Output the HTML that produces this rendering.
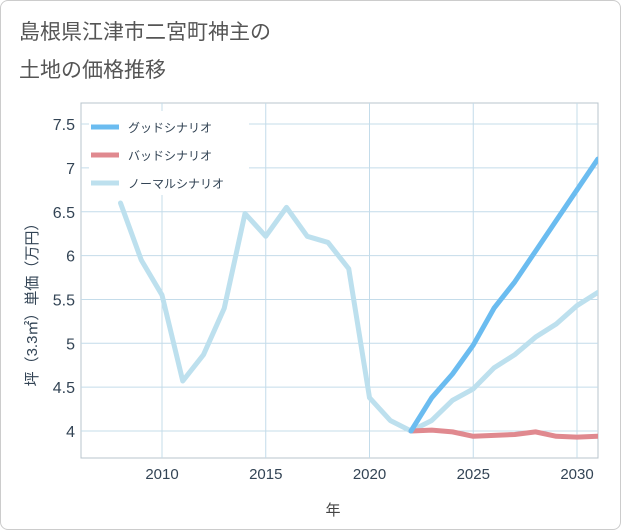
<!DOCTYPE html>
<html><head><meta charset="utf-8"><style>
body{margin:0;background:#fff;}
#wrap{position:relative;width:619px;height:528px;border:1px solid #ccc;border-radius:8px;overflow:hidden;background:#fff;}
svg text{font-family:"Liberation Sans","Noto Sans CJK JP",sans-serif;}
</style></head><body>
<div id="wrap">
<svg id="chart" width="621" height="530">
<text x="18" y="38" font-size="21" fill="#555">島根県江津市二宮町神主の</text>
<text x="18" y="76" font-size="21" fill="#555">土地の価格推移</text>
<g id="grid"></g><g id="series"></g><g id="legend"></g>
<text x="332" y="514" font-size="15" fill="#444" text-anchor="middle">年</text>
<text transform="translate(36,300) rotate(-90)" font-size="15" fill="#345" text-anchor="middle">坪（3.3㎡）単価（万円）</text>
</svg></div>
<script>
const years=[2008,2009,2010,2011,2012,2013,2014,2015,2016,2017,2018,2019,2020,2021,2022,2023,2024,2025,2026,2027,2028,2029,2030,2031];
const normal=[6.6,5.95,5.55,4.57,4.87,5.4,6.48,6.22,6.55,6.22,6.15,5.85,4.38,4.12,4.0,4.12,4.35,4.48,4.72,4.87,5.07,5.22,5.43,5.58];
const futureYears=[2022,2023,2024,2025,2026,2027,2028,2029,2030,2031];
const good=[4.0,4.38,4.65,4.98,5.4,5.7,6.05,6.4,6.75,7.1];
const bad=[4.0,4.01,3.99,3.94,3.95,3.96,3.99,3.94,3.93,3.94];
const xTicks=[2010,2015,2020,2025,2030];
const yTicks=[4,4.5,5,5.5,6,6.5,7,7.5];
const yLabels=["4","4.5","5","5.5","6","6.5","7","7.5"];
const L=80,R=597,T=102,B=457;
const x=v=>161+(v-2010)*20.75;
const y=v=>430-(v-4)*87.7;
const ns="http://www.w3.org/2000/svg";
function mk(t,a,p){const e=document.createElementNS(ns,t);for(const k in a)e.setAttribute(k,a[k]);p.appendChild(e);return e;}
const g=document.getElementById('grid');
const bg=mk('rect',{x:L,y:T,width:R-L,height:B-T,fill:'#fff',stroke:'#b8c4cc',"stroke-width":1},g);


xTicks.forEach(v=>{const l=mk('line',{x1:x(v),x2:x(v),y1:T,y2:B,stroke:'#c4dcea'},g);

});
yTicks.forEach(v=>{const l=mk('line',{x1:L,x2:R,y1:y(v),y2:y(v),stroke:'#c4dcea'},g);

});
xTicks.forEach(v=>{const t=mk('text',{x:x(v),y:478,"font-size":15,fill:'#345',"text-anchor":'middle'},g);t.textContent=v;

});
yTicks.forEach((v,i)=>{const t=mk('text',{x:74,y:y(v)+6,"font-size":16,fill:'#345',"text-anchor":'end'},g);t.textContent=yLabels[i];

});
const s=document.getElementById('series');
function line(xs,vs,c,name){const p=mk('polyline',{points:xs.map((v,i)=>x(v)+','+y(vs[i])).join(' '),fill:'none',stroke:c,"stroke-width":5,"stroke-linejoin":'round',"stroke-linecap":'round'},s);

}
const cp=mk('clipPath',{id:'cp'},s);mk('rect',{x:L,y:T,width:R-L,height:B-T},cp);s.setAttribute('clip-path','url(#cp)');
line(years,normal,'#bde0ee','normal-scenario-line');
line(futureYears,bad,'#e0898f','bad-scenario-line');
line(futureYears,good,'#6bbcf0','good-scenario-line');
const lg=document.getElementById('legend');
const lb=mk('rect',{x:88,y:110,width:160,height:84,fill:'#fff'},lg);


[['グッドシナリオ','#6bbcf0'],['バッドシナリオ','#e0898f'],['ノーマルシナリオ','#bde0ee']].forEach((d,i)=>{
const yy=126+i*28;
const l=mk('line',{x1:90,x2:118,y1:yy,y2:yy,stroke:d[1],"stroke-width":5},lg);


const t=mk('text',{x:127,y:yy+5,"font-size":12,fill:'#345'},lg);t.textContent=d[0];

});
</script>
</body></html>
